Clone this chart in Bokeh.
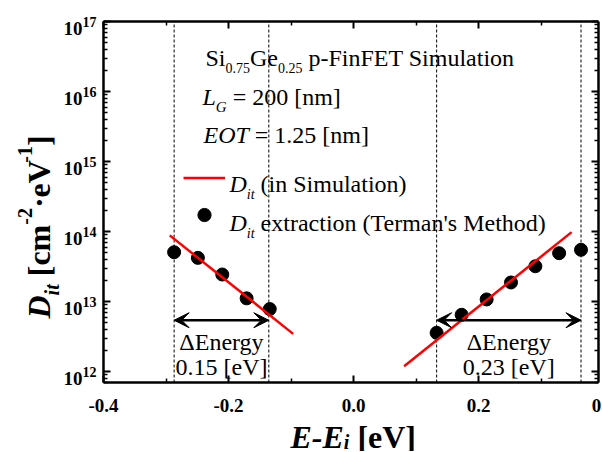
import math
from bokeh.plotting import figure
from bokeh.models import (Range1d, LinearAxis, LogAxis, FixedTicker, Arrow,
                          VeeHead, Label, Legend, LegendItem, CustomJSTickFormatter)
from bokeh.embed import file_html
from bokeh.resources import INLINE

# ---------------- data ----------------
sim_left_x = [-0.294, -0.0965]
sim_left_y = [8.8e13, 3.45e12]
sim_right_x = [0.081, 0.349]
sim_right_y = [1.19e12, 9.8e13]

ext_left_x = [-0.287, -0.249, -0.210, -0.171, -0.134]
ext_left_y = [5.06e13, 4.2e13, 2.43e13, 1.11e13, 7.8e12]
ext_right_x = [0.133, 0.173, 0.213, 0.252, 0.291, 0.329, 0.364]
ext_right_y = [3.57e12, 6.46e12, 1.07e13, 1.87e13, 3.19e13, 4.9e13, 5.48e13]

window_left = [-0.287, -0.1355]
window_right = [0.133, 0.364]
window_labels = ["0.15 [eV]", "0.23 [eV]"]
arrow_level = 5.4e12

x_ticks = [-0.4, -0.2, 0.0, 0.2, 0.4]
x_tick_labels = ["-0.4", "-0.2", "0.0", "0.2", "0.4"]
x_minor = [-0.3, -0.1, 0.1, 0.3]
y_decades = [12, 13, 14, 15, 16, 17]

# ---------------- geometry (pixel layout of the box) ----------------
FONT = "Liberation Serif"
W, H, B = 601, 451, 0
BOX_L, BOX_T, BOX_W, BOX_H = 103, 21, 495, 361
X0 = -0.4
DX = 0.2 / 125.0
LY1 = 17.0
DPD = 70.0


def X(px):
    return X0 + (px - BOX_L) * DX


def Y(py):
    return 10 ** (LY1 - (py - BOX_T) / DPD)


X1 = X(BOX_L + BOX_W)
YB = Y(BOX_T + BOX_H)
YT = 10 ** LY1

p = figure(width=W, height=H,
           x_range=Range1d(X(B), X(W - B)), y_range=Range1d(Y(H - B), Y(B)),
           y_axis_type="log", x_axis_location=None, y_axis_location=None,
           output_backend="svg", toolbar_location=None,
           min_border_left=B, min_border_right=B, min_border_top=B,
           min_border_bottom=B, background_fill_color="white",
           border_fill_color="white")
p.grid.visible = False
p.outline_line_color = None

xt = FixedTicker(ticks=x_ticks, minor_ticks=x_minor)
y_minor = [m * 10.0 ** k for k in range(11, 17) for m in range(2, 10)]
y_minor = [v for v in y_minor if YB <= v <= YT]
yt = FixedTicker(ticks=[10.0 ** k for k in y_decades], minor_ticks=y_minor)


def make_axis(cls, ticker, loc, bounds):
    ax = cls(ticker=ticker, fixed_location=loc, bounds=bounds)
    ax.axis_line_width = 2.5
    ax.axis_line_color = "black"
    ax.major_tick_in = 7
    ax.major_tick_out = 0
    ax.minor_tick_in = 4
    ax.minor_tick_out = 0
    ax.major_tick_line_width = 2
    ax.minor_tick_line_width = 1.5
    ax.formatter = CustomJSTickFormatter(code="return ''")
    ax.major_label_text_color = None
    ax.major_label_text_font_size = "1px"
    ax.major_label_standoff = 0
    ax.axis_label = None
    return ax


p.add_layout(make_axis(LinearAxis, xt, YB, (X0, X1)), "below")
p.add_layout(make_axis(LinearAxis, xt, YT, (X0, X1)), "above")
p.add_layout(make_axis(LogAxis, yt, X0, (YB, YT)), "left")
p.add_layout(make_axis(LogAxis, yt, X1, (YB, YT)), "right")

# dashed window bounds (box height)
bounds_x = window_left + window_right
p.segment(x0=bounds_x, x1=bounds_x, y0=[YB] * len(bounds_x), y1=[YT] * len(bounds_x),
          line_color="black", line_width=1, line_dash="3 2")

# data
dots_l = p.scatter(ext_left_x, ext_left_y, size=13, color="black")
p.scatter(ext_right_x, ext_right_y, size=13, color="black")
line_l = p.line(sim_left_x, sim_left_y, line_color="red", line_width=2.5)
p.line(sim_right_x, sim_right_y, line_color="red", line_width=2.5)

# arrows
for w in (window_left, window_right):
    p.add_layout(Arrow(x_start=w[0], x_end=w[1], y_start=arrow_level, y_end=arrow_level,
                       line_width=2.5, line_color="black",
                       start=VeeHead(size=15, fill_color="black", line_color="black"),
                       end=VeeHead(size=15, fill_color="black", line_color="black")))

# legend (symbols only; texts added as labels)
legend = Legend(items=[LegendItem(label=" ", renderers=[line_l]),
                       LegendItem(label=" ", renderers=[dots_l])],
                location=(183 - B, (H - B) - 230.5), glyph_width=42, glyph_height=33,
                label_width=1, label_height=33, label_standoff=0, spacing=4,
                padding=0, margin=0, border_line_color=None,
                background_fill_alpha=0, label_text_font_size="8px",
                label_text_color=None)
p.add_layout(legend)

# ---------------- text helpers ----------------
REG = {' ': 250, '(': 333, ')': 333, '-': 333, '.': 250, '=': 564, '[': 333, ']': 333,
       "'": 180, 'Δ': 612, 'A': 722, 'E': 611, 'F': 556, 'G': 722, 'L': 611, 'M': 889,
       'O': 722, 'S': 556, 'T': 611, 'V': 722, 'a': 444, 'c': 444, 'd': 500, 'e': 444,
       'g': 500, 'h': 500, 'i': 278, 'l': 278, 'm': 778, 'n': 500, 'o': 500, 'p': 500,
       'r': 333, 's': 389, 't': 278, 'u': 500, 'x': 500, 'y': 500}
ITAL = {'E': 611, 'O': 722, 'T': 556, 'L': 556, 'G': 722, 'D': 722, 'i': 278, 't': 278}
BOLD = {' ': 250, '[': 333, ']': 333, 'c': 444, 'm': 833, 'e': 444, 'V': 722, '·': 250,
        '-': 333, '.': 250}
BOLDITAL = {'E': 667, 'D': 722, 'i': 278, 't': 278, '-': 333}
TABLES = {"normal": REG, "italic": ITAL, "bold": BOLD, "bold italic": BOLDITAL}


def tw(s, size, style):
    tab = TABLES[style]
    return sum((500 if ch.isdigit() else tab.get(ch, REG.get(ch, 500))) for ch in s) * size / 1000.0


def lab(x, y, text, size, style="normal", align="left", angle=0.0):
    p.add_layout(Label(x=x, y=y, text=text, text_font=FONT,
                       text_font_size=f"{size}px", text_font_style=style,
                       text_color="black", text_align=align,
                       text_baseline="alphabetic", angle=angle))


def rich(parts, px, py, vertical=False):
    for text, size, style, shift in parts:
        lead = len(text) - len(text.lstrip(" "))
        adv0 = tw(" " * lead, size, style)
        body = text.strip(" ")
        w = tw(body, size, style)
        if not vertical:
            px += adv0
            lab(X(px), Y(py + shift), body, size, style)
            px += w
        else:
            py -= adv0
            lab(X(px + shift), Y(py), body, size, style, angle=math.pi / 2)
            py -= w


# x tick labels
for t, s in zip(x_ticks, x_tick_labels):
    lab(t, Y(405), s, 19, "bold", align="center")

# y tick labels 10^n
for k in y_decades:
    tick_px = BOX_T + (LY1 - k) * DPD
    lab(X(BOX_L - 21), Y(tick_px + 6.5), "10", 19, "bold", align="right")
    lab(X(BOX_L - 21), Y(tick_px), str(k), 14, "bold", align="left")

# axis titles
rich([("E-E", 32, "bold italic", 0), ("i", 20, "bold italic", 5),
      (" [eV]", 32, "bold", 0)], 290, 436)
rich([("D", 32, "bold italic", 0), ("it", 20, "bold italic", 13),
      (" [cm", 32, "bold", 0), ("-2", 20, "bold", -14),
      ("·eV", 32, "bold", 0), ("-1", 20, "bold", -14), ("]", 32, "bold", 0)],
     38, 318, vertical=True)

# annotation block
rich([("Si", 24, "normal", 0), ("0.75", 14, "normal", 10), ("Ge", 24, "normal", 0),
      ("0.25", 14, "normal", 10), (" p-FinFET Simulation", 24, "normal", 0)], 205, 57)
rich([("L", 24, "italic", 0), ("G", 15, "italic", 10), (" = 200 [nm]", 24, "normal", 0)],
     202, 96)
rich([("EOT", 24, "italic", 0), (" = 1.25 [nm]", 24, "normal", 0)], 203, 134)

# legend texts
rich([("D", 24, "italic", 0), ("it", 14, "italic", 11),
      (" (in Simulation)", 24, "normal", 0)], 229, 183)
rich([("D", 24, "italic", 0), ("it", 14, "italic", 11),
      (" extraction (Terman's Method)", 24, "normal", 0)], 229, 222)

# delta energy texts
for w, s in ((window_left, window_labels[0]), (window_right, window_labels[1])):
    mid = 0.5 * (w[0] + w[1])
    lab(mid, Y(341), "ΔEnergy", 24, "normal", align="center")
    lab(mid, Y(366), s, 24, "normal", align="center")

open("out.html", "w").write(file_html(p, INLINE))
